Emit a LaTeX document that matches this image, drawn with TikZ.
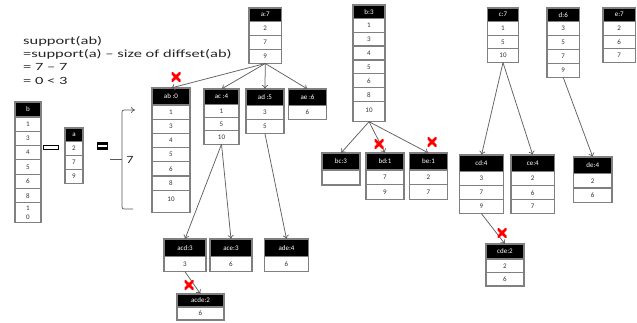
\documentclass[tikz,border=0pt]{standalone}
\usepackage{fontspec}
\setmainfont{Carlito}
\usepackage{graphicx}
\usetikzlibrary{arrows.meta}
\tikzset{
  box/.style={draw=black!50, line width=1.2pt, inner sep=0pt, outer sep=0pt, align=center,
    font=\fontsize{7}{7}\selectfont},
  hdr/.style={box, fill=black, text=white},
  cell/.style={box, fill=white, text=black!80},
  link/.style={draw=black!62, line width=0.75pt, -{To[length=4pt,width=6pt]}},
  xmark/.style={minimum size=9pt, inner sep=0pt, path picture={
     \draw[red, line width=2.8pt] (path picture bounding box.north west) -- (path picture bounding box.south east)
       (path picture bounding box.north east) -- (path picture bounding box.south west);
     \fill[red] (path picture bounding box.center) circle (2.4pt);}},
}
\newcommand\tbl[7]{%
  \node[hdr, minimum width=#4, minimum height=#5, anchor=north west] (#1-0) at (#2,#3) {#6};
  \foreach \r/\h [count=\i] in {#7}{%
    \pgfmathtruncatemacro\j{\i-1}%
    \node[cell, minimum width=#4, minimum height=\h, anchor=north] (#1-\i) at (#1-\j.south) {\r};
  }%
}
\begin{document}
\begin{tikzpicture}[x=1pt,y=-1pt]
\useasboundingbox (0,0) rectangle (637,323);
% formula text
\node[anchor=north west, inner sep=0pt, font=\fontsize{11}{13.4}\selectfont, text=black!85] (formula) at (23,34.6)
  {\scalebox{1.5}[1]{\begin{tabular}{@{}l@{}}support(ab)\\=support(a) – size of diffset(ab)\\= 7 – 7\\= 0 < 3\end{tabular}}};
% b and a columns
\tbl{b}{15}{102}{26}{15}{b}{1/14.3,3/14.3,4/14.3,5/14.3,6/14.3,8/14.3,{\shortstack{1\\[1pt]0}}/20}
\node[draw=black, line width=1pt, fill=white, minimum width=15pt, minimum height=4pt, inner sep=0pt] (minus) at (50.5,148) {};
\tbl{a}{65}{128}{18}{13.7}{a}{2/13.9,7/13.9,9/13.9}
\node[fill=black, minimum width=11pt, minimum height=8.5pt, inner sep=0pt] (eq) at (102.5,146) {};
\draw[white, line width=1.3pt, shorten <=1.5pt, shorten >=1.5pt] (eq.west) -- (eq.east);
% brace
\draw[black!65, line width=0.7pt, rounded corners=2pt, -{To[length=4pt,width=6pt]}] (133,209) -- (122,209) -- (122,110) -- (135,110);
\draw[black!65, line width=0.7pt] (110,159) -- (122,159);
\node[font=\fontsize{11}{11}\selectfont, text=black!85] (seven) at (130,159.5) {\scalebox{1.3}[1]{7}};
% a:7 subtree
\tbl{a7}{249}{8}{32.5}{13.5}{a:7}{2/14,7/14,9/14}
\tbl{ab}{152}{88}{38}{17}{ab :0}{1/14.2,3/14.2,4/14.2,5/14.2,6/14.2,8/14.2,{\raisebox{4pt}{10}}/22}
\tbl{ac}{204}{89}{35}{15.3}{ac :4}{1/13.3,5/13.3,10/13.3}
\tbl{ad}{246}{89}{38}{16.3}{ad :5}{3/14.3,5/14.3}
\tbl{ae}{288.5}{89}{38}{16.3}{ae :6}{6/14.5}
\tbl{acd}{164}{239}{42}{17.7}{acd:3}{3/15}
\tbl{ace}{210}{239}{42}{17.7}{ace:3}{6/15}
\tbl{ade}{264.5}{239}{44}{17.7}{ade:4}{6/15}
\tbl{acde}{177}{294}{47}{13}{acde:2}{6/13}
% b:3 subtree
\tbl{b3}{353}{5}{32}{13.3}{b:3}{1/13.9,3/13.9,4/13.9,5/13.9,6/13.9,8/13.9,{\raisebox{3pt}{10}}/20}
\tbl{bc}{322}{153}{38}{17}{bc:3}{{}/15}
\tbl{bd}{366}{153}{38}{17}{bd:1}{7/14.6,9/14.6}
\tbl{be}{409.5}{153}{38}{17}{be:1}{2/14.6,7/14.6}
% c, d, e
\tbl{c7}{487.5}{8}{31}{13.5}{c:7}{1/13.7,5/13.7,10/13.7}
\tbl{d6}{547}{8}{32.5}{13.5}{d:6}{3/14,5/14,7/14,9/14}
\tbl{e7}{603}{8}{32.5}{13.5}{e:7}{2/13.7,6/13.7,7/13.7}
\tbl{cd}{459.5}{155}{44}{16.7}{cd:4}{3/14,7/14,9/14}
\tbl{ce}{511}{155}{43.5}{16.7}{ce:4}{2/14,6/14,7/14}
\tbl{de}{573.5}{157}{38.5}{16.5}{de:4}{2/14.5,6/14.5}
\tbl{cde}{486}{244}{38}{15}{cde:2}{2/13.5,6/13.5}
% connectors
\draw[link] (a7-3.south) -- (ab-0.north);
\draw[link] (a7-3.south) -- (ac-0.north);
\draw[link] (a7-3.south) -- (ad-0.north);
\draw[link] (a7-3.south) -- (ae-0.north);
\draw[link] (ac-3.south) -- (acd-0.north);
\draw[link] (ac-3.south) -- (ace-0.north);
\draw[link] (ad-2.south) -- (ade-0.north);
\draw[link] (acd-1.south) -- (acde-0.north);
\draw[link] (b3-7.south) -- (bc-0.north);
\draw[link] (b3-7.south) -- (bd-0.north);
\draw[link] (b3-7.south) -- (be-0.north);
\draw[link] (c7-3.south) -- (cd-0.north);
\draw[link] (c7-3.south) -- (ce-0.north);
\draw[link] (d6-4.south) -- (de-0.north);
\draw[link] (cd-3.south) -- (cde-0.north);
% red crosses
\node[xmark] (x1) at (176,77) {};
\node[xmark] (x2) at (379,144) {};
\node[xmark] (x3) at (432,142) {};
\node[xmark] (x4) at (502,233) {};
\node[xmark] (x5) at (189,285) {};
\end{tikzpicture}
\end{document}
